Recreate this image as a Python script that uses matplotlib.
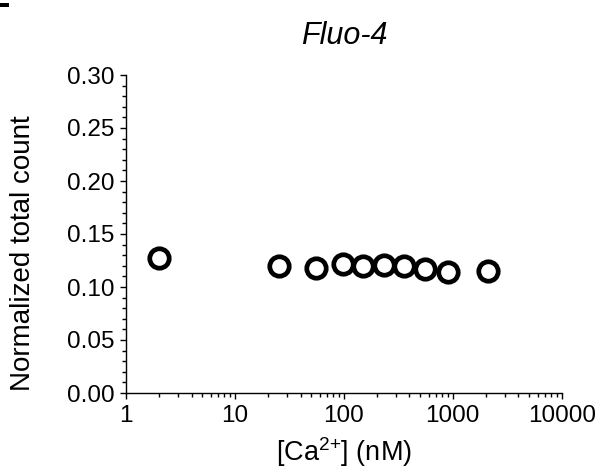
import matplotlib
matplotlib.use("Agg")
import matplotlib.pyplot as plt
from matplotlib.ticker import FixedLocator, MultipleLocator, LogLocator, NullFormatter
from matplotlib.patches import Rectangle

plt.rcParams['font.family'] = ['Liberation Sans', 'DejaVu Sans']
plt.rcParams['mathtext.fontset'] = 'custom'
plt.rcParams['mathtext.rm'] = 'Liberation Sans'
plt.rcParams['mathtext.it'] = 'Liberation Sans:italic'
plt.rcParams['mathtext.default'] = 'regular'

ca_nM = [2, 25.6, 56, 99, 151, 235, 357, 557, 912, 2095]
norm_count = [0.127, 0.120, 0.118, 0.122, 0.1195, 0.121, 0.1195, 0.117, 0.1145, 0.115]
x_ticks = [1, 10, 100, 1000, 10000]
x_ticklabels = ['1', '10', '100', '1000', '10000']
y_ticks = [0.00, 0.05, 0.10, 0.15, 0.20, 0.25, 0.30]
y_ticklabels = ['0.00', '0.05', '0.10', '0.15', '0.20', '0.25', '0.30']

fig = plt.figure(figsize=(6.11, 4.74), dpi=100)
ax = fig.add_axes([126/611, 1-393/474, (561.7-126)/611, (393-75)/474])

ax.plot(ca_nM, norm_count, linestyle='none', marker='o', markersize=14,
        markerfacecolor='white', markeredgecolor='black', markeredgewidth=3.4,
        clip_on=False, zorder=3)

ax.set_xscale('log')
ax.set_xlim(1, 10000)
ax.set_ylim(0, 0.30)
ax.xaxis.set_major_locator(FixedLocator(x_ticks))
ax.set_xticklabels(x_ticklabels)
ax.xaxis.set_minor_locator(LogLocator(base=10, subs=range(2, 10), numticks=20))
ax.xaxis.set_minor_formatter(NullFormatter())
ax.set_yticks(y_ticks)
ax.set_yticklabels(y_ticklabels)
ax.yaxis.set_minor_locator(MultipleLocator(0.01))

for s in ['top', 'right']:
    ax.spines[s].set_visible(False)
for s in ['left', 'bottom']:
    ax.spines[s].set_linewidth(1.0)

ax.tick_params(which='major', direction='out', length=4.5, width=1.0,
               labelsize=17.5, pad=4)
ax.tick_params(which='minor', direction='out', length=2.6, width=1.0)

ax.set_title('Fluo-4', fontsize=22, style='italic', pad=22)
ax.set_xlabel('[Ca$^{2{+}}$] (nM)', fontsize=19.5, labelpad=6)
fig.text(23/611, 1-253/474, 'Normalized total count', rotation=90,
         fontsize=20, ha='center', va='center')

fig.add_artist(Rectangle((0, 1-7/474), 9/611, 4/474, transform=fig.transFigure,
                         facecolor='black', edgecolor='none'))

fig.savefig('out.png', dpi=100)
